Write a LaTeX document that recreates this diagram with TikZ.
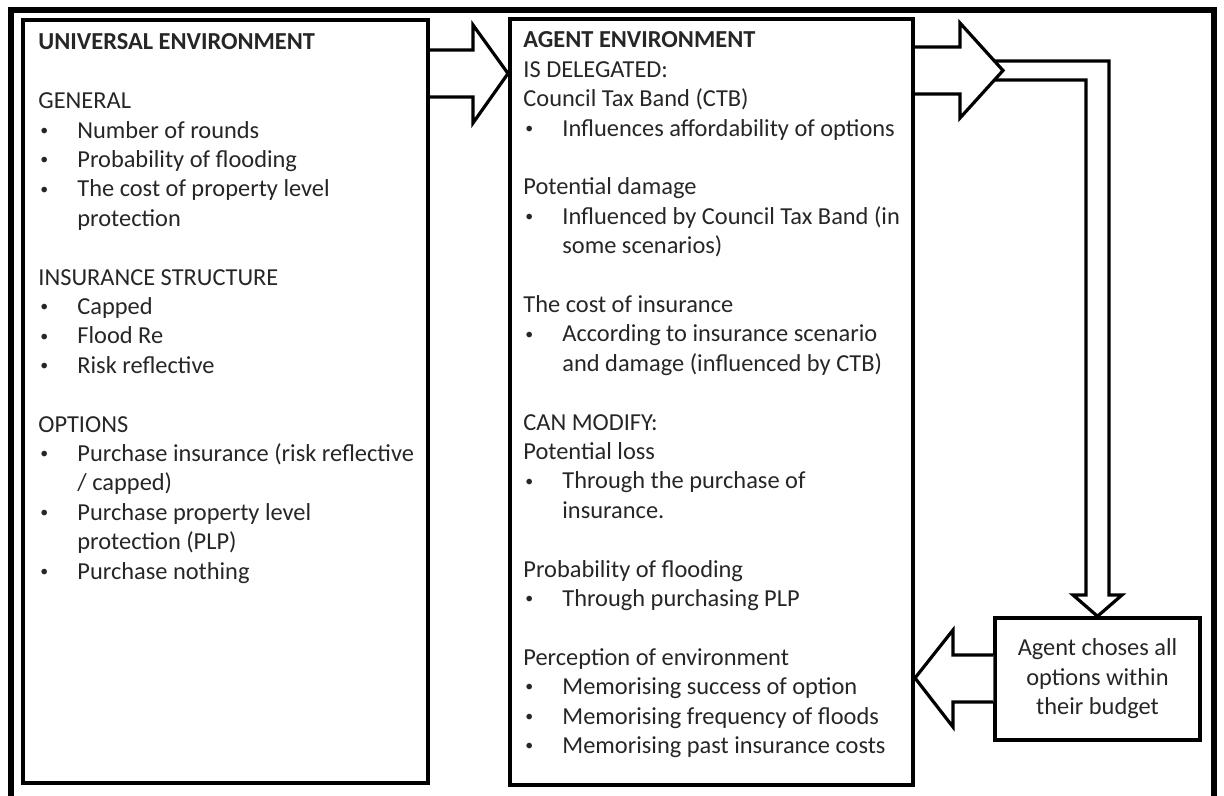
\documentclass[tikz,border=0pt]{standalone}
\usepackage{fontspec}
\setmainfont{Carlito}
\usepackage{xcolor}
\newcommand{\bul}{\makebox[19.5pt][l]{\hspace{1pt}\raisebox{0.25ex}{\scalebox{0.65}{\textbullet}}}}
\newcommand{\ind}{\hspace*{19.5pt}}
\tikzset{
  frame/.style={line width=3pt},
  panel/.style={draw, line width=2pt, inner sep=0pt},
  coltext/.style={anchor=north west, inner sep=0pt, align=left, text=black!85,
    font=\fontsize{12.2}{14.7}\selectfont},
  blockarrow/.style={draw, fill=white, line width=1.6pt},
  pipe/.style={draw, line width=1.6pt}
}
\begin{document}
\begin{tikzpicture}[line cap=butt,line join=miter,x=0.5pt,y=-0.5pt]
\useasboundingbox (0,0) rectangle (1224,796);
\draw[frame] (11,796) -- (11,10) -- (1214,10) -- (1214,796);
\node[panel, minimum width=202.5pt, minimum height=381.5pt] (univbox) at (225.5,401.5) {};
\node[panel, minimum width=201.5pt, minimum height=382.5pt] (agentbox) at (711.5,402) {};
\node[panel, line width=1.75pt, minimum width=102.5pt, minimum height=61pt, align=center,
  text=black!85, font=\fontsize{12.2}{14.7}\selectfont] (choice) at (1097.5,679)
  {Agent choses all\\options within\\their budget};
\node[coltext] (univtext) at (38,29) {\strut\textbf{UNIVERSAL ENVIRONMENT}\\
  \\
  GENERAL\\
  \bul Number of rounds\\
  \bul Probability of flooding\\
  \bul The cost of property level\\
  \ind protection\\
  \\
  INSURANCE STRUCTURE\\
  \bul Capped\\
  \bul Flood Re\\
  \bul Risk reflective\\
  \\
  OPTIONS\\
  \bul Purchase insurance (risk reflective\\
  \ind / capped)\\
  \bul Purchase property level\\
  \ind protection (PLP)\\
  \bul Purchase nothing};
\node[coltext] (agenttext) at (523,27) {\strut\textbf{AGENT ENVIRONMENT}\\
  IS DELEGATED:\\
  Council Tax Band (CTB)\\
  \bul Influences affordability of options\\
  \\
  Potential damage\\
  \bul Influenced by Council Tax Band (in\\
  \ind some scenarios)\\
  \\
  The cost of insurance\\
  \bul According to insurance scenario\\
  \ind and damage (influenced by CTB)\\
  \\
  CAN MODIFY:\\
  Potential loss\\
  \bul Through the purchase of\\
  \ind insurance.\\
  \\
  Probability of flooding\\
  \bul Through purchasing PLP\\
  \\
  Perception of environment\\
  \bul Memorising success of option\\
  \bul Memorising frequency of floods\\
  \bul Memorising past insurance costs};
\draw[blockarrow] (univbox.east |- 0,50) -- (473,50) -- (473,25) -- (agentbox.west |- 0,73.5)
  -- (473,123) -- (473,97) -- (univbox.east |- 0,97);
\draw[pipe] (990,61) -- (1109,61) -- (1109,595) -- (1122,595) -- (choice.north)
  -- (1073,595) -- (1086,595) -- (1086,80) -- (990,80);
\draw[blockarrow] (agentbox.east |- 0,47) -- (960,47) -- (960,23) -- (1003,70.5)
  -- (960,118) -- (960,94) -- (agentbox.east |- 0,94);
\draw[blockarrow] (choice.west |- 0,655) -- (953,655) -- (953,630) -- (agentbox.east |- 0,678)
  -- (953,727) -- (953,702) -- (choice.west |- 0,702);
\end{tikzpicture}
\end{document}
